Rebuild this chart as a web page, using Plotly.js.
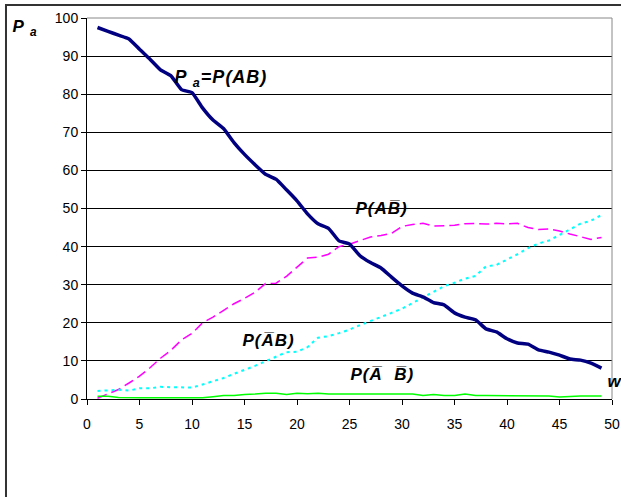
<!DOCTYPE html>
<html>
<head>
<meta charset="utf-8">
<script src="https://cdn.plot.ly/plotly-3.0.1.min.js"></script>
<style>html,body{margin:0;padding:0;background:#fff;}#chart{width:621px;height:497px;}
.annotation-text-g text{letter-spacing:1px;}</style>
</head>
<body>
<div id="chart"></div>
<script>
const w = [1,2,3,4,5,6,7,8,9,10,11,12,13,14,15,16,17,18,19,20,21,22,23,24,25,26,27,28,29,30,31,32,33,34,35,36,37,38,39,40,41,42,43,44,45,46,47,48,49];
const pAB = [97.5,96.5,95.5,94.5,91.8,89.2,86.4,84.8,81.2,80.4,76.4,73.2,71,67.3,64.2,61.5,59,57.7,54.9,52,48.6,46,44.8,41.5,40.7,37.6,35.8,34.4,32,29.7,27.8,26.8,25.3,24.7,22.6,21.5,20.8,18.4,17.6,15.8,14.7,14.4,12.9,12.3,11.5,10.5,10.2,9.4,8.1];
const pABbar = [0.2,1.3,2.5,4.2,6,8.2,10.7,12.8,15.5,17.2,20,21.5,23.3,25,26.4,28,30.3,30.4,32.2,34.5,37,37.2,38,40,40.6,41.6,42.5,42.9,43.5,45.3,45.8,46.1,45.4,45.5,45.6,46,46.1,45.9,46.1,46,46.1,45,44.5,44.6,44.1,43.3,42.6,41.9,42.4];
const pAbarB = [2.1,2.3,2.4,2.2,2.8,2.8,3.2,3.1,3.0,3.0,3.8,4.6,5.5,6.6,7.6,8.7,9.9,11.1,12.3,12.4,13.6,16.1,16.5,17.3,18.2,19.4,20.4,21.5,22.6,23.7,25.2,26.7,28.2,29.6,30.5,31.6,32.3,34.8,35.2,36.5,38,39.6,40.8,41.6,43,44.4,46,46.8,48.3];
const pAbarBbar = [0.7,0.7,0.4,0.3,0.3,0.3,0.3,0.3,0.3,0.3,0.3,0.6,0.9,0.9,1.2,1.3,1.5,1.5,1.2,1.5,1.4,1.5,1.3,1.3,1.3,1.3,1.3,1.3,1.3,1.3,1.3,0.9,1.2,0.9,0.9,1.3,0.9,0.9,0.9,0.8,0.8,0.8,0.8,0.8,0.5,0.7,0.8,0.8,0.8];
const xTicks = [0,5,10,15,20,25,30,35,40,45,50];
const yTicks = [0,10,20,30,40,50,60,70,80,90,100];

const OL = '\u0305';
const F = 'Liberation Sans, Arial, sans-serif';

const traces = [
  {x: w, y: pABbar, mode: 'lines', line: {color: '#FF00FF', width: 1.5, dash: '10px,5px'}, hoverinfo: 'skip'},
  {x: w, y: pAbarB, mode: 'lines', line: {color: '#00FFFF', width: 2, dash: '3px,4px'}, hoverinfo: 'skip'},
  {x: w, y: pAbarBbar, mode: 'lines', line: {color: '#00FF00', width: 1.5}, hoverinfo: 'skip'},
  {x: w, y: pAB, mode: 'lines', line: {color: '#000080', width: 3.5, shape: 'spline', smoothing: 0.4}, hoverinfo: 'skip'}
];

function lab(text, x, y, size) {
  return {text: '<b><i>' + text + '</i></b>', x: x, y: y, xref: 'x', yref: 'y',
    xanchor: 'left', yanchor: 'middle', showarrow: false,
    font: {family: F, size: size || 17, color: '#000'}};
}

const layout = {
  width: 621, height: 497,
  margin: {l: 87, r: 9, t: 18, b: 98},
  paper_bgcolor: '#fff', plot_bgcolor: '#fff',
  showlegend: false,
  font: {family: F, size: 14, color: '#000'},
  xaxis: {range: [0, 50], tickvals: xTicks, ticktext: xTicks.map(String),
    showgrid: false, zeroline: false, showline: true, linecolor: '#000', linewidth: 1,
    ticks: 'outside', ticklen: 5, tickcolor: '#000', tickfont: {family: F, size: 14, color: '#000'},
    ticklabelstandoff: 7, fixedrange: true},
  yaxis: {range: [0, 100], tickvals: yTicks, ticktext: yTicks.map(String),
    showgrid: true, gridcolor: '#000', gridwidth: 1, zeroline: false,
    showline: true, linecolor: '#000', linewidth: 1,
    ticks: 'outside', ticklen: 5, tickcolor: '#000', tickfont: {family: F, size: 14, color: '#000'},
    fixedrange: true},
  shapes: [
    {type: 'line', xref: 'paper', yref: 'paper', x0: 0, x1: 1, y0: 1, y1: 1, line: {color: '#888', width: 1}, layer: 'above'},
    {type: 'line', xref: 'paper', yref: 'paper', x0: 1, x1: 1, y0: 0, y1: 1, line: {color: '#888', width: 1}, layer: 'above'},
    {type: 'rect', xref: 'paper', yref: 'paper', x0: -0.1543, x1: 1.03, y0: 1.0341, y1: -0.3, line: {color: '#333', width: 2}, layer: 'below'}
  ],
  annotations: [
    lab('P <sub>a</sub>=P(AB)', 8.6, 84.2, 18),
    lab('P(AB' + OL + ')', 25.6, 50.1),
    lab('P(A' + OL + 'B)', 14.9, 15.35),
    lab('P(A' + OL + '  B' + OL + ')', 25.2, 6.4),
    lab('w', 49.4, 4.5),
    {text: '<b><i>P <sub>a</sub></i></b>', x: -0.143, y: 0.974, xref: 'paper', yref: 'paper',
     xanchor: 'left', yanchor: 'middle', showarrow: false, font: {family: F, size: 17, color: '#000'}}
  ]
};

Plotly.newPlot('chart', traces, layout, {staticPlot: true, displayModeBar: false});
</script>
</body>
</html>
